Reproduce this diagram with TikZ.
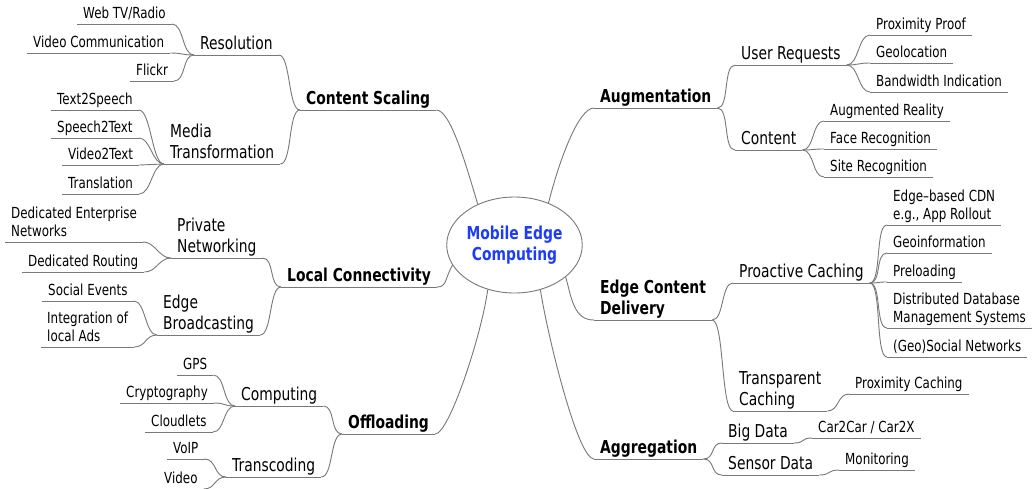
\documentclass[tikz,border=0pt]{standalone}
\usepackage{fontspec}
\setmainfont{DejaVu Sans}[FakeStretch=0.78]
\usetikzlibrary{shapes.geometric}
\definecolor{linegray}{RGB}{120,120,120}
\definecolor{rootblue}{RGB}{30,60,255}
\newcommand\leafsize{\fontsize{15.25}{18}\selectfont}
\newcommand\midsize{\fontsize{17.75}{21.5}\selectfont}
\newcommand\topicsize{\fontsize{17.8}{21}\selectfont\bfseries}
\tikzset{
  conn/.style={draw=linegray, line width=0.9pt},
  mm/.style={anchor=south west, inner xsep=6pt, inner ysep=0pt, text depth=5pt, align=left,
    append after command={(\tikzlastnode.south west) edge[conn] (\tikzlastnode.south east)}},
  leaf/.style={mm, font=\leafsize},
  mid/.style={mm, font=\midsize},
  topic/.style={mm, font=\topicsize},
  lk/.style={to path={.. controls +(-12,0) and +(12,0) .. (\tikztotarget)}},
  rk/.style={to path={.. controls +(12,0) and +(-12,0) .. (\tikztotarget)}},
  rootnode/.style={ellipse, draw=linegray, line width=0.9pt, minimum width=117pt,
    minimum height=96pt, inner sep=0pt, align=center, font=\topicsize, text=rootblue}
}
\begin{document}
\begin{tikzpicture}[x=1pt,y=-1pt]
\path[use as bounding box, fill=white] (0,0) rectangle (1033,488);

% root
\node[rootnode] (mec) at (514.5,245) {Mobile Edge\\Computing};

% ---------- left side ----------
\node[topic] (cs) at (300,110) {Content Scaling};
\node[mid] (res) at (194,55) {Resolution};
\node[leaf] (webtv) at (77,24) {Web TV/Radio};
\node[leaf] (vidcom) at (27,53) {Video Communication};
\node[leaf] (flickr) at (130,81) {Flickr};
\node[mid] (media) at (164,164) {Media\\Transformation};
\node[leaf] (t2s) at (51,110) {Text2Speech};
\node[leaf] (s2t) at (51,138) {Speech2Text};
\node[leaf] (v2t) at (62,165) {Video2Text};
\node[leaf] (transl) at (62,194) {Translation};

\node[topic] (lc) at (281,287) {Local Connectivity};
\node[mid] (priv) at (171,258) {Private\\Networking};
\node[leaf] (dent) at (5,242) {Dedicated Enterprise\\Networks};
\node[leaf] (drout) at (22,272) {Dedicated Routing};
\node[mid] (ebc) at (157,335) {Edge\\Broadcasting};
\node[leaf] (social) at (42,301) {Social Events};
\node[leaf] (ads) at (41,347) {Integration of\\local Ads};

\node[topic] (off) at (342,434) {Offloading};
\node[mid] (comp) at (235,406) {Computing};
\node[leaf] (gps) at (177,375) {GPS};
\node[leaf] (crypto) at (120,403) {Cryptography};
\node[leaf] (cloud) at (145,432) {Cloudlets};
\node[mid] (transc) at (226,477) {Transcoding};
\node[leaf] (voip) at (167,459) {VoIP};
\node[leaf] (video) at (158,489) {Video};

% ---------- right side ----------
\node[topic] (aug) at (594,108) {Augmentation};
\node[mid] (ureq) at (735,65) {User Requests};
\node[leaf] (prox) at (870,35) {Proximity Proof};
\node[leaf] (geoloc) at (870,63) {Geolocation};
\node[leaf] (bw) at (870,92) {Bandwidth Indication};
\node[mid] (content) at (735,150) {Content};
\node[leaf] (ar) at (824,121) {Augmented Reality};
\node[leaf] (face) at (824,149) {Face Recognition};
\node[leaf] (site) at (824,177) {Site Recognition};

\node[topic] (ecd) at (594,320) {Edge Content\\Delivery};
\node[mid] (proact) at (733,283) {Proactive Caching};
\node[leaf] (cdn) at (887,225) {Edge--based CDN\\e.g., App Rollout};
\node[leaf] (geoinfo) at (887,253) {Geoinformation};
\node[leaf] (preload) at (887,282) {Preloading};
\node[leaf] (ddbms) at (887,328) {Distributed Database\\Management Systems};
\node[leaf] (geosoc) at (887,357) {(Geo)Social Networks};
\node[mid] (transp) at (733,411) {Transparent\\Caching};
\node[leaf] (proxc) at (849,394) {Proximity Caching};

\node[topic] (agg) at (594,459) {Aggregation};
\node[mid] (bigd) at (722,443) {Big Data};
\node[leaf] (c2c) at (812,438) {Car2Car / Car2X};
\node[mid] (sensd) at (722,475) {Sensor Data};
\node[leaf] (monit) at (839,470) {Monitoring};

% ---------- root connectors ----------
\draw[conn] (mec.132) .. controls +(-12,-40) and +(14,0) .. (cs.south east);
\draw[conn] (mec.198) .. controls +(-8,14) and +(10,0) .. (lc.south east);
\draw[conn] (mec.239) .. controls +(-6,45) and +(14,0) .. (off.south east);
\draw[conn] (mec.51) .. controls +(10,-40) and +(-16,0) .. (aug.south west);
\draw[conn] (mec.328) .. controls +(6,22) and +(-20,0) .. (ecd.south west);
\draw[conn] (mec.300) .. controls +(8,50) and +(-16,0) .. (agg.south west);

% ---------- left connectors ----------
\draw[conn] (cs.south west) to[lk] (res.south east);
\draw[conn] (cs.south west) to[lk] (media.south east);
\draw[conn] (res.south west) to[lk] (webtv.south east);
\draw[conn] (res.south west) to[lk] (vidcom.south east);
\draw[conn] (res.south west) to[lk] (flickr.south east);
\draw[conn] (media.south west) to[lk] (t2s.south east);
\draw[conn] (media.south west) to[lk] (s2t.south east);
\draw[conn] (media.south west) to[lk] (v2t.south east);
\draw[conn] (media.south west) to[lk] (transl.south east);

\draw[conn] (lc.south west) to[lk] (priv.south east);
\draw[conn] (lc.south west) to[lk] (ebc.south east);
\draw[conn] (priv.south west) to[lk] (dent.south east);
\draw[conn] (priv.south west) to[lk] (drout.south east);
\draw[conn] (ebc.south west) to[lk] (social.south east);
\draw[conn] (ebc.south west) to[lk] (ads.south east);

\draw[conn] (off.south west) to[lk] (comp.south east);
\draw[conn] (off.south west) to[lk] (transc.south east);
\draw[conn] (comp.south west) to[lk] (gps.south east);
\draw[conn] (comp.south west) to[lk] (crypto.south east);
\draw[conn] (comp.south west) to[lk] (cloud.south east);
\draw[conn] (transc.south west) to[lk] (voip.south east);
\draw[conn] (transc.south west) to[lk] (video.south east);

% ---------- right connectors ----------
\draw[conn] (aug.south east) to[rk] (ureq.south west);
\draw[conn] (aug.south east) to[rk] (content.south west);
\draw[conn] (ureq.south east) to[rk] (prox.south west);
\draw[conn] (ureq.south east) to[rk] (geoloc.south west);
\draw[conn] (ureq.south east) to[rk] (bw.south west);
\draw[conn] (content.south east) to[rk] (ar.south west);
\draw[conn] (content.south east) to[rk] (face.south west);
\draw[conn] (content.south east) to[rk] (site.south west);

\draw[conn] (ecd.south east) to[rk] (proact.south west);
\draw[conn] (ecd.south east) to[rk] (transp.south west);
\draw[conn] (proact.south east) to[rk] (cdn.south west);
\draw[conn] (proact.south east) to[rk] (geoinfo.south west);
\draw[conn] (proact.south east) to[rk] (preload.south west);
\draw[conn] (proact.south east) to[rk] (ddbms.south west);
\draw[conn] (proact.south east) to[rk] (geosoc.south west);
\draw[conn] (transp.south east) to[rk] (proxc.south west);

\draw[conn] (agg.south east) to[rk] (bigd.south west);
\draw[conn] (agg.south east) to[rk] (sensd.south west);
\draw[conn] (bigd.south east) to[rk] (c2c.south west);
\draw[conn] (sensd.south east) to[rk] (monit.south west);
\end{tikzpicture}
\end{document}
